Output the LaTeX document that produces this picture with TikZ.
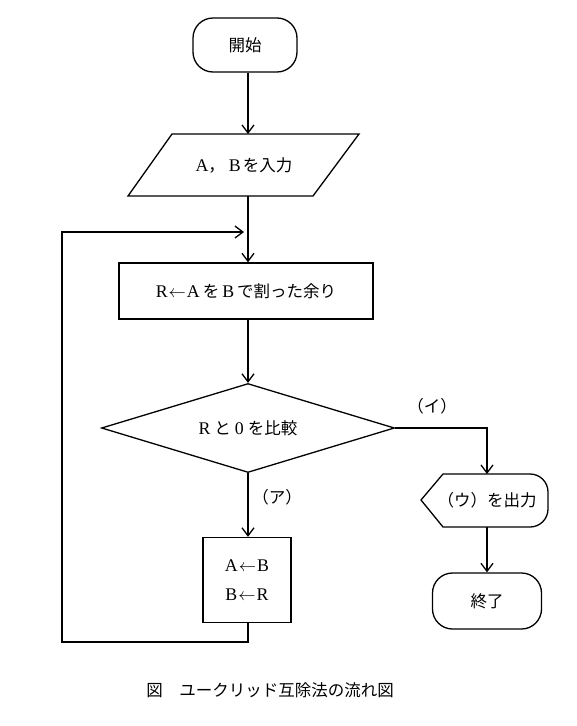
\documentclass[tikz,border=0pt]{standalone}
\usepackage{fontspec}
\setmainfont{Liberation Serif}[Scale=1.08]
\newfontfamily\jp{Noto Sans CJK JP}
\usetikzlibrary{arrows.meta,shapes.geometric}
\begin{document}
\begin{tikzpicture}[x=1pt,y=-1pt,
  line width=1.3pt,
  lbl/.style={font=\fontsize{16.5}{20}\selectfont, inner sep=0pt},
  term/.style={draw, rounded corners=20pt, minimum width=104pt, minimum height=54pt, inner sep=0pt, font=\fontsize{16.5}{20}\selectfont},
  proc/.style={draw, inner sep=0pt, font=\fontsize{16.5}{20}\selectfont},
  conn/.style={-{Straight Barb[length=8pt,width=12pt,line width=1.3pt]}}]
\useasboundingbox (0,0) rectangle (576,726);

% start
\node[term] (start) at (245,45) {\jp 開始};

% input parallelogram
\draw (172,134) -- (359,134) -- (313,196) -- (128,196) -- cycle;
\node[lbl] (input) at (244,165) {A{\jp ，}\hspace{4pt}B\hspace{2pt}{\jp を入力}};
\coordinate (inTop) at (248,134);
\coordinate (inBot) at (248,196);

% process
\node[proc, minimum width=254pt, minimum height=56pt] (proc) at (246,291) {R\hspace{1pt}$\leftarrow$\hspace{1pt}A\hspace{3pt}{\jp を}\hspace{3pt}B\hspace{3pt}{\jp で割った余り}};

% decision
\node[draw, diamond, aspect=3.3, minimum width=293pt, minimum height=89pt, inner sep=0pt, lbl] (dec) at (248,428) {R\hspace{4pt}{\jp と}\hspace{4pt}0\hspace{4pt}{\jp を比較}};

% assignment box
\node[proc, minimum width=88pt, minimum height=85pt, align=center] (asg) at (247,580) {A\hspace{1pt}$\leftarrow$\hspace{1pt}B\\[9pt]B\hspace{1pt}$\leftarrow$\hspace{1pt}R};

% output display
\draw (421,500) -- (443,474) -- (530,474) to[out=0,in=90] (548,492) -- (548,509) to[out=-90,in=0] (530,527) -- (443,527) -- cycle;
\node[lbl] (out) at (487,500) {\jp （ウ）を出力};
\coordinate (outTop) at (487,474);
\coordinate (outBot) at (487,527);

% end
\node[term, minimum width=109pt, minimum height=56pt] (end) at (487,601) {\jp 終了};

% labels
\node[lbl] (lA) at (277,497) {\jp （ア）};
\node[lbl] (lI) at (432,406) {\jp （イ）};

% connectors
\draw[conn] (start.south -| inTop) -- (inTop);
\draw[conn] (inBot) -- (proc.north -| inBot);
\draw[conn] (proc.south -| dec.north) -- (dec.north);
\draw[conn] (dec.south) -- (asg.north -| dec.south);
\draw[conn] (dec.east) -| (outTop);
\draw[conn] (outBot) -- (end.north);
\coordinate (loopA) at (248,642);
\coordinate (loopB) at (62,642);
\coordinate (loopC) at (62,232);
\coordinate (loopD) at (244,232);
\draw[conn] (asg.south -| loopA) -- (loopA) -- (loopB) -- (loopC) -- (loopD);

% caption
\node[lbl] (cap) at (270,690) {\jp 図　ユークリッド互除法の流れ図};
\end{tikzpicture}
\end{document}
